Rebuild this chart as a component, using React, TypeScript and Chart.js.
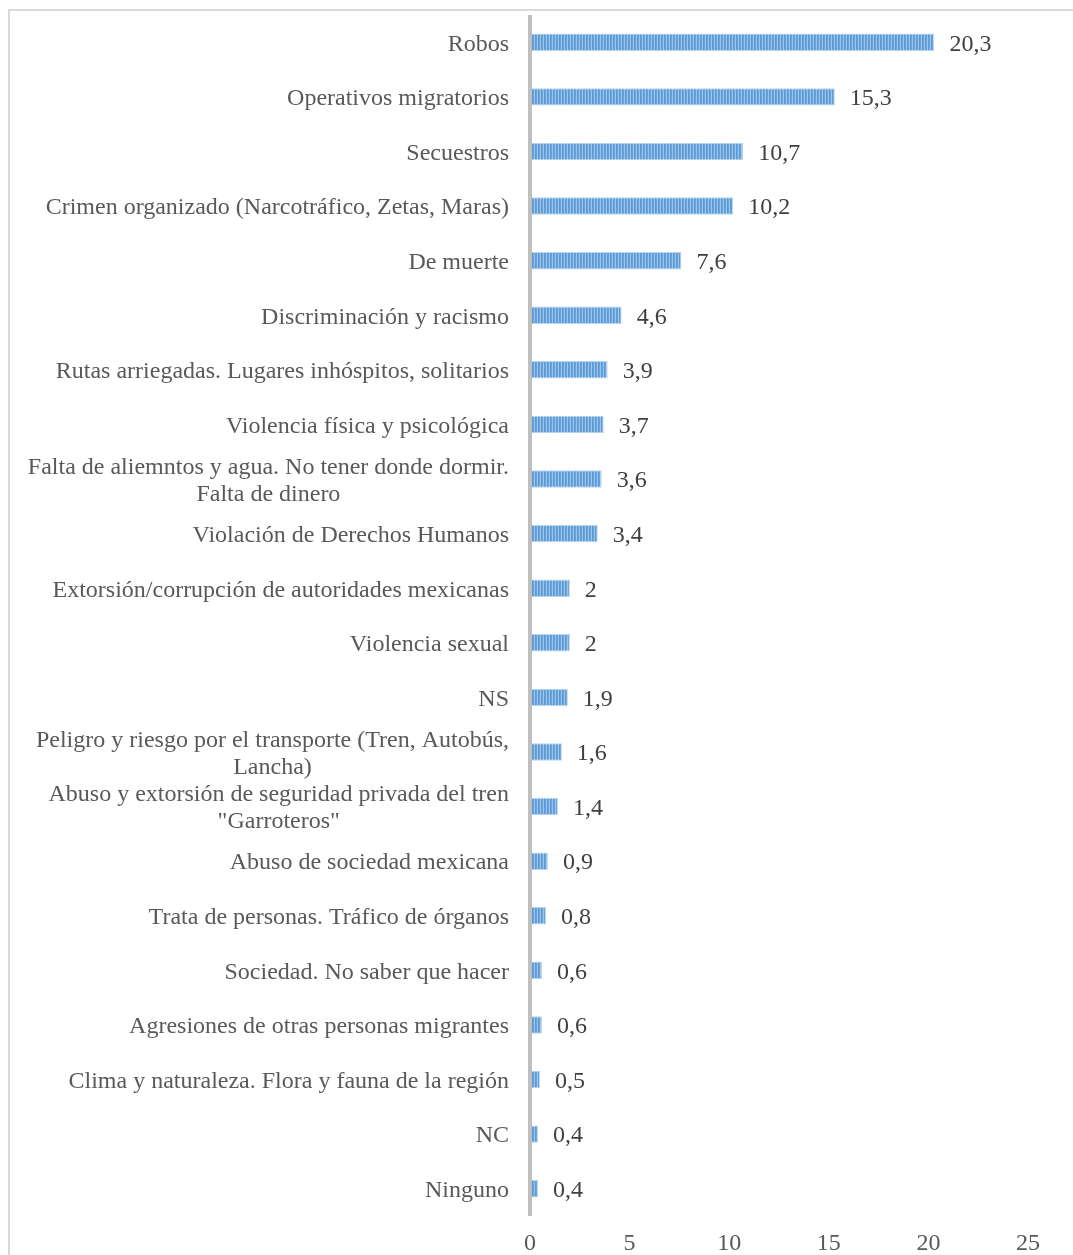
import React, { useEffect, useRef } from "react";
import { Chart, registerables } from "chart.js";

Chart.register(...registerables);

const categories: (string | string[])[] = [
  "Robos",
  "Operativos migratorios",
  "Secuestros",
  "Crimen organizado (Narcotráfico, Zetas, Maras)",
  "De muerte",
  "Discriminación y racismo",
  "Rutas arriegadas. Lugares inhóspitos, solitarios",
  "Violencia física y psicológica",
  ["Falta de aliemntos y agua. No tener donde dormir.", "Falta de dinero"],
  "Violación de Derechos Humanos",
  "Extorsión/corrupción de autoridades mexicanas",
  "Violencia sexual",
  "NS",
  ["Peligro y riesgo por el transporte (Tren, Autobús,", "Lancha)"],
  ["Abuso y extorsión de seguridad privada del tren", "\"Garroteros\""],
  "Abuso de sociedad mexicana",
  "Trata de personas. Tráfico de órganos",
  "Sociedad. No saber que hacer",
  "Agresiones de otras personas migrantes",
  "Clima y naturaleza. Flora y fauna de la región",
  "NC",
  "Ninguno",
];

const values: number[] = [
  20.3, 15.3, 10.7, 10.2, 7.6, 4.6, 3.9, 3.7, 3.6, 3.4, 2, 2, 1.9, 1.6, 1.4,
  0.9, 0.8, 0.6, 0.6, 0.5, 0.4, 0.4,
];

const xTicks: number[] = [0, 5, 10, 15, 20, 25];

const FONT = "'Liberation Serif', 'Times New Roman', serif";

function makePattern(): CanvasPattern | string {
  const c = document.createElement("canvas");
  c.width = 3;
  c.height = 1;
  const ctx = c.getContext("2d");
  if (!ctx) return "#6fa6dc";
  ctx.fillStyle = "#5b9bd5";
  ctx.fillRect(0, 0, 1, 1);
  ctx.fillStyle = "#68a3db";
  ctx.fillRect(1, 0, 1, 1);
  ctx.fillStyle = "#9fc4e9";
  ctx.fillRect(2, 0, 1, 1);
  const p = ctx.createPattern(c, "repeat");
  return p || "#6fa6dc";
}

const categoryLabelPlugin = {
  id: "categoryLabels",
  afterDraw(chart: any) {
    const ctx = chart.ctx;
    const yScale = chart.scales.y;
    const right = chart.chartArea.left - 21;
    const lh = 27;
    ctx.save();
    ctx.font = `24px ${FONT}`;
    ctx.fillStyle = "#595959";
    ctx.textBaseline = "middle";
    categories.forEach((lab, i) => {
      const lines = Array.isArray(lab) ? lab : [lab];
      const yc = yScale.getPixelForTick(i) + 2;
      const widths = lines.map((l) => ctx.measureText(l).width);
      const maxW = Math.max(...widths);
      const cx = right - maxW / 2;
      const y0 = yc - ((lines.length - 1) * lh) / 2;
      lines.forEach((l, k) => {
        ctx.textAlign = lines.length > 1 ? "center" : "right";
        ctx.fillText(l, lines.length > 1 ? cx : right, y0 + k * lh);
      });
    });
    ctx.restore();
  },
};

const valueLabelPlugin = {
  id: "valueLabels",
  afterDatasetsDraw(chart: any) {
    const ctx = chart.ctx;
    const area = chart.chartArea;
    ctx.save();
    // vertical category axis line drawn over the bars' base
    ctx.strokeStyle = "#bfbfbf";
    ctx.lineWidth = 4;
    ctx.beginPath();
    ctx.moveTo(area.left, area.top);
    ctx.lineTo(area.left, area.bottom);
    ctx.stroke();

    const meta = chart.getDatasetMeta(0);
    ctx.font = `24px ${FONT}`;
    ctx.fillStyle = "#404040";
    ctx.textAlign = "left";
    ctx.textBaseline = "middle";
    meta.data.forEach((bar: any, i: number) => {
      const txt = String(values[i]).replace(".", ",");
      ctx.fillText(txt, bar.x + 15, bar.y + 2);
    });
    ctx.restore();
  },
};

export default function App() {
  const ref = useRef<HTMLCanvasElement | null>(null);

  useEffect(() => {
    document.documentElement.style.overflow = "hidden";
    document.body.style.overflow = "hidden";
    if (!ref.current) return;
    const chart = new Chart(ref.current, {
      type: "bar",
      data: {
        labels: categories.map((c) => (Array.isArray(c) ? c.join(" ") : c)),
        datasets: [
          {
            data: values,
            backgroundColor: makePattern() as any,
            borderColor: "#b9d4ef",
            borderWidth: 1,
            categoryPercentage: 1,
            barPercentage: 0.32,
          },
        ],
      },
      options: {
        indexAxis: "y",
        animation: false,
        responsive: false,
        maintainAspectRatio: false,
        layout: { padding: { top: 4, right: 45, left: 0, bottom: 0 } },
        plugins: {
          legend: { display: false },
          tooltip: { enabled: false },
        },
        scales: {
          x: {
            min: 0,
            max: 25,
            afterBuildTicks: (scale: any) => {
              scale.ticks = xTicks.map((v) => ({ value: v }));
            },
            afterFit: (scale: any) => {
              scale.height = 39;
            },
            grid: { display: false, drawTicks: false },
            border: { display: false },
            ticks: {
              color: "#595959",
              font: { family: FONT, size: 24 },
              padding: 13,
              maxRotation: 0,
            },
          },
          y: {
            afterFit: (scale: any) => {
              scale.width = 520;
            },
            grid: { display: false, drawTicks: false },
            border: { display: false },
            ticks: { display: false },
          },
        },
      },
      plugins: [categoryLabelPlugin, valueLabelPlugin],
    });
    return () => chart.destroy();
  }, []);

  return (
    <div>
      <div
        style={{
          position: "fixed",
          left: 8,
          top: 9,
          width: 2000,
          height: 2000,
          borderLeft: "2px solid #d9d9d9",
          borderTop: "2px solid #d9d9d9",
        }}
      />
      <canvas
        ref={ref}
        width={1063}
        height={1244}
        style={{ position: "fixed", left: 10, top: 11, width: 1063, height: 1244 }}
      />
    </div>
  );
}
